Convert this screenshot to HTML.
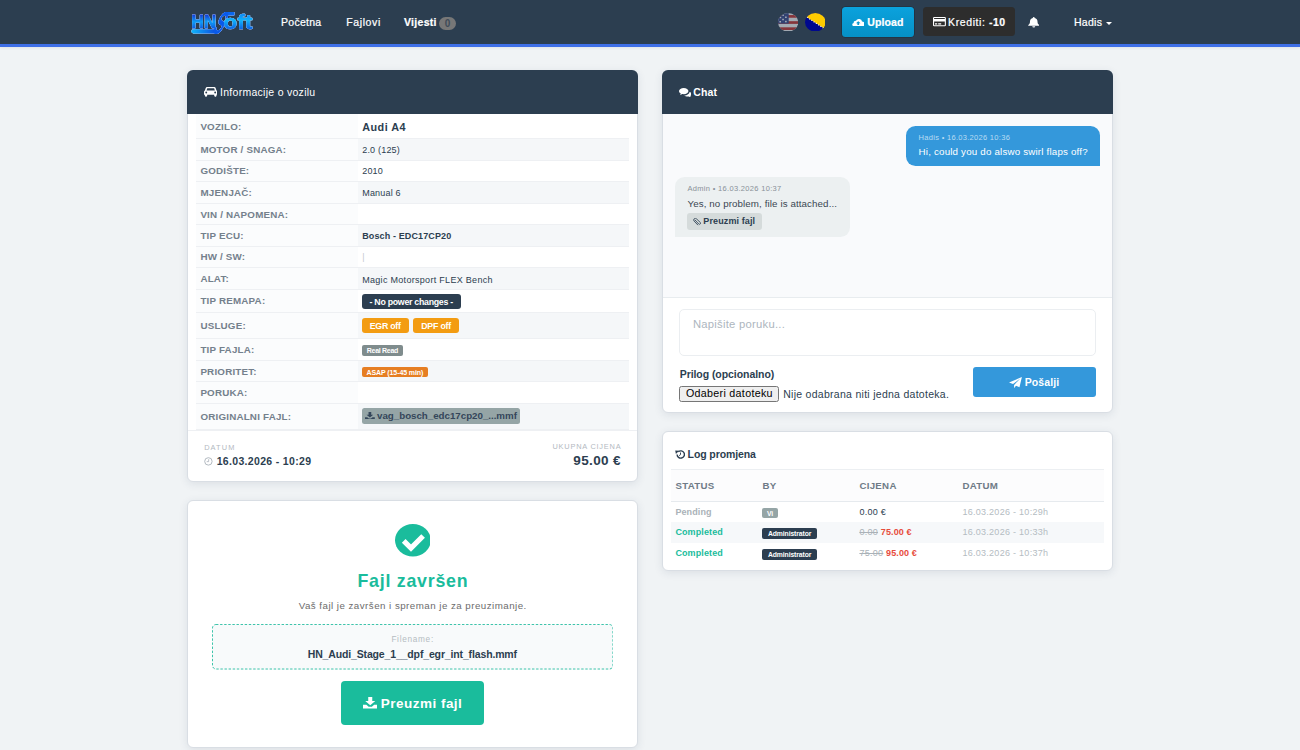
<!DOCTYPE html>
<html lang="bs">
<head>
<meta charset="utf-8">
<title>HNSoft</title>
<style>
*{box-sizing:border-box}
html,body{margin:0;padding:0}
body{width:1300px;height:750px;overflow:hidden;background:#f0f3f5;font-family:"Liberation Sans",sans-serif;color:#2c3e50;font-size:10.5px;position:relative}
.abs{position:absolute}
.t{position:absolute;white-space:nowrap;line-height:1;transform-origin:0 0}
/* NAVBAR */
#nav{position:absolute;left:0;top:0;width:1300px;height:47px;background:#2c3e50;border-bottom:3px solid #3f6fe6;box-shadow:0 1px 3px rgba(0,0,0,.07)}
#nav .t{color:#fff;font-size:11px}
#nav a,#nav .nbtn{-webkit-text-stroke:.22px #fff}
#nav a{position:absolute;top:0;height:44px;line-height:44px;color:#fff;text-decoration:none;font-size:10.5px;white-space:nowrap}
#nav .badge{-webkit-text-stroke:0;display:inline-block;vertical-align:middle;width:17px;height:13.6px;line-height:13.6px;border-radius:7px;background:#777;color:#3f4b57;font-size:10px;font-weight:bold;text-align:center;margin-left:2.2px;margin-top:.6px;letter-spacing:0}
.nbtn{position:absolute;border-radius:3px;color:#fff;font-size:10.5px;white-space:nowrap}
.card{position:absolute;background:#fff;border:1px solid #d9dee4;border-radius:6px;box-shadow:0 2px 8px rgba(40,60,90,.10)}
.chead{position:absolute;left:-2px;top:-1px;width:451px;height:44px;background:#2c3e50;border-radius:6px 6px 0 0;color:#fff}

body{letter-spacing:.28px}
b,strong,th{letter-spacing:.12px}
.chead .ttl{position:absolute;left:33px;top:0;line-height:44px;font-size:10.5px;white-space:nowrap}
/* info table */
#it{position:absolute;left:7.2px;top:43px;width:433px;border-collapse:collapse;table-layout:fixed}
#it td{padding:0 0 0 4.5px;border-bottom:1px solid #eef0f3;vertical-align:middle;white-space:nowrap;overflow:hidden}
#it td.l{width:161.5px;background:#fbfcfd;color:#74808c;font-size:9.8px;font-weight:bold;text-transform:uppercase;letter-spacing:.2px;padding-left:4.2px}
#it td.v{font-size:9px;color:#2c3e50;letter-spacing:.2px;background:#fff}
#it tr.s td.v{background:#f5f7f9}
#it td.v>span,#it td.v>b{position:relative;top:.5px}
#lt .bdg{position:relative;top:1px}
#it .bdg{position:relative;top:.8px;left:-.5px}
.bdg{overflow:hidden;display:inline-block;color:#fff;font-weight:bold;border-radius:3px;vertical-align:middle;text-align:center;white-space:nowrap}

/* card 2 */
#c2 .t{left:0;width:447px;text-align:center}
#fbox{position:absolute;left:22.8px;top:123.3px;width:401.4px;height:45.5px;border:1px solid transparent;border-radius:4px;background:#f8fafb}
#dl{position:absolute;left:151.5px;top:179.6px;width:143.6px;height:44.3px;border-radius:4px;background:#1abc9c;color:#fff}
/* chat */
#chat{position:absolute;left:0;top:43px;width:447.8px;height:183.3px}
.bub{position:absolute;border-radius:9.5px}
.bub .t{left:12.5px}
#ta{position:absolute;left:15.4px;top:237.8px;width:416.9px;height:47.2px;border:1px solid #ebeef1;border-radius:5px;background:#fff}
#send{position:absolute;left:309.6px;top:296.1px;width:122.8px;height:30px;border-radius:3px;background:#3498db;color:#fff}
#fbtn{position:absolute;left:15.6px;top:314.6px;width:99.5px;height:16.1px;border:1px solid #767676;border-radius:2.5px;background:#efefef;color:#000;font-size:10px;letter-spacing:0;white-space:nowrap}
/* log */
#lt{position:absolute;left:7.3px;top:36.6px;width:432.8px;border-collapse:collapse;table-layout:fixed;font-size:9px}
#lt th{height:31.5px;text-align:left;font-size:9.7px;color:#6f7b87;padding-bottom:1px !important;text-transform:uppercase;padding:0 0 0 4.4px;background:#fcfcfd;border-top:1px solid #eceff2;border-bottom:1.5px solid #e6eaee;letter-spacing:.3px}
#lt td{height:20.8px;padding:0 0 0 4.4px;white-space:nowrap;vertical-align:middle}
#lt tr.s td{background:#f6f8fa}
#lt .dt{color:#b4bcc2}
#lt .pr b{color:#e74c3c}
#lt .pr s{color:#aab2b8}
.in{position:absolute;width:0;height:0}
</style>
</head>
<body>

<div id="nav">
  <svg id="logo" class="abs" style="left:189px;top:9px" width="68" height="28" viewBox="0 0 68 28">
    <title>HNSoft</title>
    <defs>
      <linearGradient id="lg" x1="0" y1="0" x2="0" y2="1">
        <stop offset="0" stop-color="#1414c8"/><stop offset=".5" stop-color="#0d9cf5"/><stop offset="1" stop-color="#0a3cd8"/>
      </linearGradient>
      <linearGradient id="lg3" x1="0" y1="0" x2="0" y2="1">
        <stop offset="0" stop-color="#0a6ef0"/><stop offset=".45" stop-color="#10b4fc"/><stop offset="1" stop-color="#0a40dc"/>
      </linearGradient>
      <linearGradient id="lg2" x1="0" y1="0" x2="1" y2="0">
        <stop offset="0" stop-color="#12b4fa"/><stop offset="1" stop-color="#0a4ae0"/>
      </linearGradient>
    </defs>
    <g font-family="Liberation Sans, sans-serif" font-weight="bold" stroke-linejoin="round" style="filter:drop-shadow(0 0 .35px #b9c9ea) drop-shadow(0 0 .35px #b9c9ea)">
      <rect x="2.4" y="20.2" width="25.5" height="4.2" rx="2.1" fill="url(#lg2)"/>
      <rect x="35" y="2.900" width="10.6" height="3.600" rx="1.2" fill="#0a66ec"/>
      <text id="lgS" fill="#0a5ae8" stroke="#0a5ae8" stroke-width="1.7" transform="translate(22.9,23.9) skewX(-25) scale(.46,.99)" font-size="29" font-weight="normal">S</text>
      <text id="lgHN" fill="url(#lg)" stroke="url(#lg)" stroke-width=".8" x="2.6" y="18.8" font-size="17.6" textLength="25" lengthAdjust="spacingAndGlyphs">HN</text>
      <text id="lgoft" fill="url(#lg3)" stroke="url(#lg3)" stroke-width=".7" x="34.6" y="20" font-size="20.5" textLength="29.2" lengthAdjust="spacingAndGlyphs">oft</text>
    </g>
  </svg>
  <a id="n1" style="left:281px">Početna</a>
  <a id="n2" style="left:346.3px;letter-spacing:.6px">Fajlovi</a>
  <a id="n3" style="left:404px"><b style="letter-spacing:.3px">Vijesti</b><span class="badge" id="n3b">0</span></a>

  <svg id="fl1" class="abs" style="left:777.7px;top:12.8px;opacity:.6" width="20.2" height="18.6" viewBox="0 0 100 100" preserveAspectRatio="none">
    <defs><clipPath id="cp1"><ellipse cx="50" cy="50" rx="50" ry="50"/></clipPath></defs>
    <g clip-path="url(#cp1)">
      <rect width="100" height="100" fill="#f2f4f6"/>
      <g fill="#c2302e"><rect y="11" width="100" height="14.5"/><rect y="44" width="100" height="14.5"/><rect y="77" width="100" height="14.5"/></g>
      <rect width="53" height="57" fill="#36468a"/>
      <g fill="#f2f4f6"><rect x="22" y="9" width="7" height="7"/><rect x="9" y="21" width="7" height="7"/><rect x="35" y="19" width="8" height="8"/><rect x="21" y="31" width="8" height="8"/><rect x="7" y="43" width="8" height="8"/><rect x="35" y="42" width="8" height="8"/></g>
    </g>
  </svg>
  <svg id="fl2" class="abs" style="left:804.5px;top:12.6px" width="20.6" height="18.6" viewBox="0 0 100 100" preserveAspectRatio="none">
    <defs><clipPath id="cp2"><ellipse cx="50" cy="50" rx="50" ry="50"/></clipPath></defs>
    <g clip-path="url(#cp2)">
      <rect width="100" height="100" fill="#00088e"/>
      <polygon points="0,0 100,0 100,88.8 0,16" fill="#fecb00"/>
      <g fill="#fff"><circle cx="11" cy="24.0" r="3"/><circle cx="22" cy="32.0" r="3"/><circle cx="33" cy="40.0" r="3"/><circle cx="44" cy="48.0" r="3"/><circle cx="55" cy="56.0" r="3"/><circle cx="66" cy="64.0" r="3"/><circle cx="77" cy="72.1" r="3"/><circle cx="88" cy="80.1" r="3"/></g>
    </g>
  </svg>

  <div class="nbtn" id="upl" style="left:841.7px;top:6.8px;width:72.5px;height:30.4px;background:linear-gradient(#0ba2dd,#0690c6);border-radius:3.5px;box-shadow:0 0 0 .6px rgba(20,30,42,.55)">
    <svg class="abs" style="left:10.2px;top:11.2px" width="12.5" height="8.4" viewBox="0 0 30 24" preserveAspectRatio="none"><path fill="#fff" d="M24 10.2A7.5 7.5 0 0 0 9.6 7.6 5.2 5.2 0 0 0 4.2 14 5 5 0 0 0 5.5 23.8H23.5A6.6 6.6 0 0 0 24 10.2Z"/><path fill="#0898d0" d="M15 9l5.5 6h-3.4v5h-4.2v-5H9.5z"/></svg>
    <b class="t" id="uplt" style="left:25.5px;top:10.5px;font-size:10.5px">Upload</b>
  </div>
  <div class="nbtn" id="kre" style="left:923.1px;top:6.8px;width:92.4px;height:29.4px;background:#2d2d2d;border-radius:3.5px">
    <svg class="abs" style="left:9.7px;top:10.5px" width="12.9" height="9.3" viewBox="0 0 26 20" preserveAspectRatio="none"><path fill="#fff" d="M2.500 0h21A2.500 2.500 0 0 1 26 2.500v15a2.500 2.500 0 0 1-2.500 2.500h-21A2.500 2.500 0 0 1 0 17.500v-15A2.500 2.500 0 0 1 2.500 0zM2.200 2.200v2h21.600v-2zm0 7.300v8.300h21.600V9.500zM4 13.500h4.500v2.500H4zm6.500 0h6v2.500h-6z"/></svg>
    <span class="t" id="kret" style="left:25px;top:10.5px;font-size:10.5px;letter-spacing:.6px">Krediti: <b style="letter-spacing:.45px">-10</b></span>
  </div>
  <svg id="bell" class="abs" style="left:1027.6px;top:17.3px" width="11.5" height="10.6" viewBox="0 0 23 25" preserveAspectRatio="none"><path fill="#fff" d="M11.500 0a1.800 1.800 0 0 1 1.800 1.800v.7C17 3.400 19 6.500 19 10.500c0 5 1.500 6.500 3.500 8.500v1.500H.5V19C2.500 17 4 15.500 4 10.500 4 6.500 6 3.400 9.700 2.500v-.7A1.800 1.800 0 0 1 11.500 0zM8.500 22h6a3 3 0 0 1-6 0z"/></svg>
  <a id="n4" style="left:1074px">Hadis <span style="display:inline-block;vertical-align:middle;margin-left:1px;border-left:3.2px solid transparent;border-right:3.2px solid transparent;border-top:3.5px solid #fff"></span></a>
</div>

<!-- LEFT CARD 1 -->
<div class="card" id="c1" style="left:187px;top:70px;width:451px;height:412px">
<div class="abs" style="left:0;top:358.5px;width:449px;height:1px;background:#eef0f3"></div>
<div class="in" style="left:1px;top:0">
  <div class="chead" id="c1h">
    <svg class="abs" style="left:16.6px;top:17.4px" width="13.4" height="9.7" viewBox="0 0 27 20" preserveAspectRatio="none"><path fill="#fff" d="M6.200 0h14.600c1.300 0 2.300.8 2.700 2l1.700 5.300c1.100.4 1.800 1.400 1.800 2.600V16h-1.700v2.300c0 .9-.8 1.700-1.700 1.700h-1.300c-.9 0-1.700-.8-1.700-1.700V16H6.400v2.300c0 .9-.8 1.700-1.700 1.700H3.400c-.9 0-1.700-.8-1.700-1.700V16H0V9.900c0-1.200.7-2.200 1.800-2.600L3.500 2C3.900.8 4.900 0 6.200 0zm.4 2.700L5.100 7.100h16.800l-1.500-4.400zM4.500 9.400a1.900 1.900 0 1 0 0 3.800 1.900 1.900 0 0 0 0-3.800zm18 0a1.900 1.900 0 1 0 0 3.800 1.900 1.900 0 0 0 0-3.800z"/></svg>
    <span class="ttl" id="c1t">Informacije o vozilu</span>
  </div>
  <table id="it">
    <tr id="r1" class="" style="height:24.3px"><td class="l"><span id="l1" style="position:relative;top:.6px">VOZILO:</span></td><td class="v"><b id="v1" style="font-size:10.8px;letter-spacing:.5px;position:relative;top:.7px">Audi A4</b></td></tr>
    <tr id="r2" class="s" style="height:21.8px"><td class="l"><span id="l2">MOTOR / SNAGA:</span></td><td class="v"><span id="v2">2.0 (125)</span></td></tr>
    <tr id="r3" class="" style="height:21.8px"><td class="l"><span id="l3">GODIŠTE:</span></td><td class="v"><span id="v3">2010</span></td></tr>
    <tr id="r4" class="s" style="height:21.4px"><td class="l"><span id="l4">MJENJAČ:</span></td><td class="v"><span id="v4">Manual 6</span></td></tr>
    <tr id="r5" class="" style="height:21.5px"><td class="l"><span id="l5">VIN / NAPOMENA:</span></td><td class="v"></td></tr>
    <tr id="r6" class="s" style="height:21.4px"><td class="l"><span id="l6">TIP ECU:</span></td><td class="v"><b id="v6" style="top:.8px">Bosch - EDC17CP20</b></td></tr>
    <tr id="r7" class="" style="height:21.5px"><td class="l"><span id="l7">HW / SW:</span></td><td class="v"><span id="v7" style="color:#c5cad0">|</span></td></tr>
    <tr id="r8" class="s" style="height:21.5px"><td class="l"><span id="l8">ALAT:</span></td><td class="v"><span id="v8" style="letter-spacing:.3px;top:1.1px">Magic Motorsport FLEX Bench</span></td></tr>
    <tr id="r9" class="" style="height:23.4px"><td class="l"><span id="l9">TIP REMAPA:</span></td><td class="v"><span class="bdg" id="b1" style="background:#2c3e50;width:99px;height:15.4px;line-height:17.6px;font-size:8.8px;letter-spacing:-.28px;top:.7px">- No power changes -</span></td></tr>
    <tr id="r10" class="s" style="height:26.1px"><td class="l"><span id="l10">USLUGE:</span></td><td class="v"><span class="bdg" id="b2" style="background:#f39c12;width:47px;height:15.4px;line-height:17.8px;top:-.35px;font-size:8.8px;letter-spacing:-.25px">EGR off</span><span class="bdg" id="b3" style="background:#f39c12;width:46px;height:15.4px;line-height:17.8px;top:-.35px;font-size:8.8px;letter-spacing:-.2px;margin-left:4.4px">DPF off</span></td></tr>
    <tr id="r11" class="" style="height:21.8px"><td class="l"><span id="l11">TIP FAJLA:</span></td><td class="v"><span class="bdg" id="b4" style="background:#7f8c8d;width:41.4px;height:11.4px;line-height:11.8px;top:.8px;font-size:7px;letter-spacing:-.3px;border-radius:2px">Real Read</span></td></tr>
    <tr id="r12" class="s" style="height:21.1px"><td class="l"><span id="l12">PRIORITET:</span></td><td class="v"><span class="bdg" id="b5" style="background:#e67e22;width:66.4px;height:10.8px;line-height:12.8px;top:.9px;font-size:7px;letter-spacing:-.1px;border-radius:2px">ASAP (15-45 min)</span></td></tr>
    <tr id="r13" class="" style="height:21.5px"><td class="l"><span id="l13">PORUKA:</span></td><td class="v"></td></tr>
    <tr id="r14" class="s" style="height:26.1px"><td class="l"><span id="l14">ORIGINALNI FAJL:</span></td><td class="v"><span class="bdg" id="b6" style="background:#95a5a6;color:#34465a;width:158.6px;height:16.4px;line-height:16.4px;top:.2px;font-size:9.75px;letter-spacing:-.02px;border-radius:2.5px"><svg width="9.8" height="7.8" viewBox="0 0 18 17" preserveAspectRatio="none" style="vertical-align:-0.3px;margin-right:2.2px"><path fill="#34465a" d="M6.500 0h5v6h3.700L9 12.200 2.800 6h3.700zM0 11.500h4.200L7 14.200h4l2.800-2.700H18V17H0z"/></svg>vag_bosch_edc17cp20_...mmf</span></td></tr>
  </table>
  <div id="ft" class="abs" style="left:0;top:359.5px;width:447px;height:51px">
    <span class="t" id="f1" style="left:15.2px;top:13.8px;font-size:7.4px;color:#b3b9bf;letter-spacing:1.1px">DATUM</span>
    <svg class="abs" style="left:15.2px;top:26.4px" width="8.8" height="8.8" viewBox="0 0 18 18"><circle cx="9" cy="9" r="7.600" fill="none" stroke="#a9b0b8" stroke-width="1.800"/><path d="M9.500 4.500v5H5.500" fill="none" stroke="#a9b0b8" stroke-width="1.600"/></svg>
    <b class="t" id="f2" style="left:27.7px;top:25.1px;font-size:10.5px;color:#2c3e50;letter-spacing:.33px">16.03.2026 - 10:29</b>
    <span class="t" id="f3" style="right:15.4px;top:12.1px;font-size:7.4px;color:#b3b9bf;letter-spacing:.78px;margin-right:-.78px">UKUPNA CIJENA</span>
    <b class="t" id="f4" style="right:15.4px;top:23.1px;font-size:13.5px;color:#2c3e50;letter-spacing:.37px;margin-right:-.37px">95.00 €</b>
  </div>

</div>
</div>

<!-- LEFT CARD 2 -->
<div class="card" id="c2" style="left:187px;top:500px;width:451px;height:248px">
<div class="in" style="left:1px;top:0">
  <svg id="chk" class="abs" style="left:205.6px;top:23.4px" width="35.8" height="32.4" viewBox="0 0 35.8 32.4"><ellipse cx="17.9" cy="16.2" rx="17.9" ry="16.2" fill="#1abc9c"/><path d="M8.700 16.800l7.300 7.300L28.100 12" fill="none" stroke="#fff" stroke-width="5.200" stroke-linejoin="miter"/></svg>
  <b class="t" id="c2t" style="top:71.6px;font-size:17.8px;color:#1abc9c;letter-spacing:.75px;text-indent:.75px">Fajl završen</b>
  <span class="t" id="c2s" style="top:99.95px;font-size:9.75px;color:#6c6c6c;letter-spacing:.465px;text-indent:.465px">Vaš fajl je završen i spreman je za preuzimanje.</span>
  <div id="fbox"><svg class="abs" style="left:-1px;top:-1px" width="401.4" height="45.5"><rect x=".5" y=".5" width="400.4" height="44.5" rx="3.5" fill="none" stroke="#3ec4ab" stroke-width="1" stroke-dasharray="2.4 1.7"/></svg>
    <span class="t" id="c2f" style="top:10.9px;width:399px;font-size:8.25px;color:#b5bcc2;letter-spacing:.7px;text-indent:.7px">Filename:</span>
    <b class="t" id="c2n" style="top:23.7px;width:399px;font-size:10.5px;color:#2c3e50;letter-spacing:-.145px">HN_Audi_Stage_1__dpf_egr_int_flash.mmf</b>
  </div>
  <div id="dl">
    <svg class="abs" style="left:22.1px;top:16.4px" width="14.5" height="11.6" viewBox="0 0 18 17" preserveAspectRatio="none"><path fill="#fff" d="M6.500 0h5v6h3.700L9 12.200 2.800 6h3.700zM0 11.500h4.200L7 14.200h4l2.800-2.700H18V17H0z"/></svg>
    <b class="t" id="dlt" style="left:40.3px;width:auto;top:16.3px;font-size:13.5px;letter-spacing:.48px">Preuzmi fajl</b>
  </div>

</div>
</div>

<!-- RIGHT CARD 1 (chat) -->
<div class="card" id="c3" style="left:662px;top:70px;width:451px;height:343px">
<div class="abs" style="left:0;top:43px;width:449px;height:183.5px;background:#f9fafc;border-bottom:1px solid #e8ecef"></div>
<div class="in" style="left:.7px;top:0">
  <div class="chead" id="c3h" style="left:-1.7px">
    <svg class="abs" style="left:16.6px;top:17.8px" width="12.6" height="9.2" viewBox="0 0 24 20" preserveAspectRatio="none"><path fill="#fff" d="M9 0c5 0 9 3 9 6.800s-4 6.800-9 6.800c-.9 0-1.800-.1-2.600-.3-1.200.9-2.800 1.600-4.600 1.700.8-.8 1.400-1.700 1.600-2.800C1.300 11 0 9 0 6.800 0 3 4 0 9 0zm11 8c2.400 1.100 4 3 4 5.200 0 1.800-1 3.300-2.700 4.400.2 1 .8 1.800 1.500 2.400-1.700-.1-3.100-.7-4.200-1.500-.7.1-1.400.2-2.100.2-2.600 0-4.900-.8-6.400-2.200 5.600-.3 10-3.900 10-8.300z"/></svg>
    <b class="ttl" id="c3t" style="left:31.2px">Chat</b>
  </div>
  <div id="chat">
    <div class="bub" id="bb1" style="left:242.4px;top:11.7px;width:194px;height:40.2px;background:#3498db;border-bottom-right-radius:0">
      <span class="t" id="m1a" style="top:8.6px;font-size:7.5px;color:#b9dcf3;letter-spacing:.3px">Hadis • 16.03.2026 10:36</span>
      <span class="t" id="m1b" style="top:21.25px;font-size:9.75px;color:#fff;letter-spacing:.19px">Hi, could you do alswo swirl flaps off?</span>
    </div>
    <div class="bub" id="bb2" style="left:11.3px;top:62.9px;width:175.1px;height:60.3px;background:#ecf0f1;border-bottom-left-radius:0">
      <span class="t" id="m2a" style="top:8.6px;font-size:7.5px;color:#8a9199;letter-spacing:.32px">Admin • 16.03.2026 10:37</span>
      <span class="t" id="m2b" style="top:21.65px;font-size:9.75px;color:#3b4752;letter-spacing:.1px">Yes, no problem, file is attached...</span>
      <div class="abs" id="att" style="left:12.300px;top:36.500px;width:74.5px;height:16.500px;border-radius:3px;background:#d5dbdb">
        <svg class="abs" style="left:6px;top:4.300px" width="8" height="8.5" viewBox="0 0 16 17"><path fill="none" stroke="#2c3e50" stroke-width="1.700" stroke-linecap="round" d="M4.500 4.500l7 7.500a2.200 2.200 0 0 0 3.200-3L7 1.800A3.200 3.200 0 0 0 2.300 6.200l7.200 7.600"/></svg>
        <b class="t" id="attt" style="left:16px;top:4px;font-size:9px;color:#2c3e50">Preuzmi fajl</b>
      </div>
    </div>
  </div>
  <div id="ta"><span class="t" id="ph" style="left:12.9px;top:9.6px;font-size:11.25px;color:#adb6be;letter-spacing:.25px">Napišite poruku...</span></div>
  <b class="t" id="pl" style="left:16px;top:298.4px;font-size:10.5px;color:#2c3e50;letter-spacing:-.06px">Prilog (opcionalno)</b>
  <div id="fbtn"><span class="t" id="fbt" style="left:5.6px;top:1.5px;font-size:10.7px;letter-spacing:.31px">Odaberi datoteku</span></div>
  <span class="t" id="nf" style="left:119.500px;top:317.500px;font-size:10.5px;color:#2c3e50">Nije odabrana niti jedna datoteka.</span>
  <div id="send">
    <svg class="abs" style="left:36.1px;top:9.8px" width="12.9" height="11.2" viewBox="0 0 24 22" preserveAspectRatio="none"><path fill="#fff" d="M24 0L19.500 20l-6.500-3-3.500 5v-6.500L21 3 7.500 14 0 11z"/></svg>
    <b class="t" id="sendt" style="left:51.4px;top:10.2px;font-size:10.5px">Pošalji</b>
  </div>

</div>
</div>

<!-- RIGHT CARD 2 (log) -->
<div class="card" id="c4" style="left:662px;top:431px;width:451px;height:140px">
<div class="in" style="left:.7px;top:.7px">
  <svg class="abs" style="left:11.3px;top:17.1px" width="10" height="9" viewBox="0 0 20 18"><path fill="none" stroke="#2c3e50" stroke-width="2.8" d="M4.200 9a7.300 7.300 0 1 0 2.400-5.400"/><path fill="#2c3e50" d="M.5.800l7.800.6L1.800 8z"/><path fill="none" stroke="#2c3e50" stroke-width="1.900" d="M11 5v4.300l-2.800 2"/></svg>
  <b class="t" id="c4t" style="left:23.9px;top:16.2px;letter-spacing:-.1px;font-size:10.5px;color:#2c3e50">Log promjena</b>
  <table id="lt">
    <tr id="lh"><th style="width:87px"><span id="h1">Status</span></th><th style="width:97px"><span id="h2">By</span></th><th style="width:103px"><span id="h3">Cijena</span></th><th><span id="h4">Datum</span></th></tr>
    <tr id="lr1"><td><b id="s1" style="color:#aab2b8">Pending</b></td><td><span class="bdg" id="g1" style="background:#95a5a6;width:15.5px;height:10.6px;line-height:11.8px;font-size:6.8px;letter-spacing:-.1px;border-radius:2px">Vi</span></td><td class="pr"><span id="p1">0.00 €</span></td><td class="dt"><span id="d1">16.03.2026 - 10:29h</span></td></tr>
    <tr id="lr2" class="s"><td><b id="s2" style="color:#1abc9c">Completed</b></td><td><span class="bdg" id="g2" style="background:#2c3e50;width:54.5px;height:10.6px;line-height:11.8px;font-size:6.8px;letter-spacing:-.1px;border-radius:2px">Administrator</span></td><td class="pr"><span id="p2"><s>0.00</s> <b>75.00 €</b></span></td><td class="dt"><span id="d2">16.03.2026 - 10:33h</span></td></tr>
    <tr id="lr3"><td><b id="s3" style="color:#1abc9c">Completed</b></td><td><span class="bdg" id="g3" style="background:#2c3e50;width:54.5px;height:10.6px;line-height:11.8px;font-size:6.8px;letter-spacing:-.1px;border-radius:2px">Administrator</span></td><td class="pr"><span id="p3"><s>75.00</s> <b>95.00 €</b></span></td><td class="dt"><span id="d3">16.03.2026 - 10:37h</span></td></tr>
  </table>

</div>
</div>

</body>
</html>
